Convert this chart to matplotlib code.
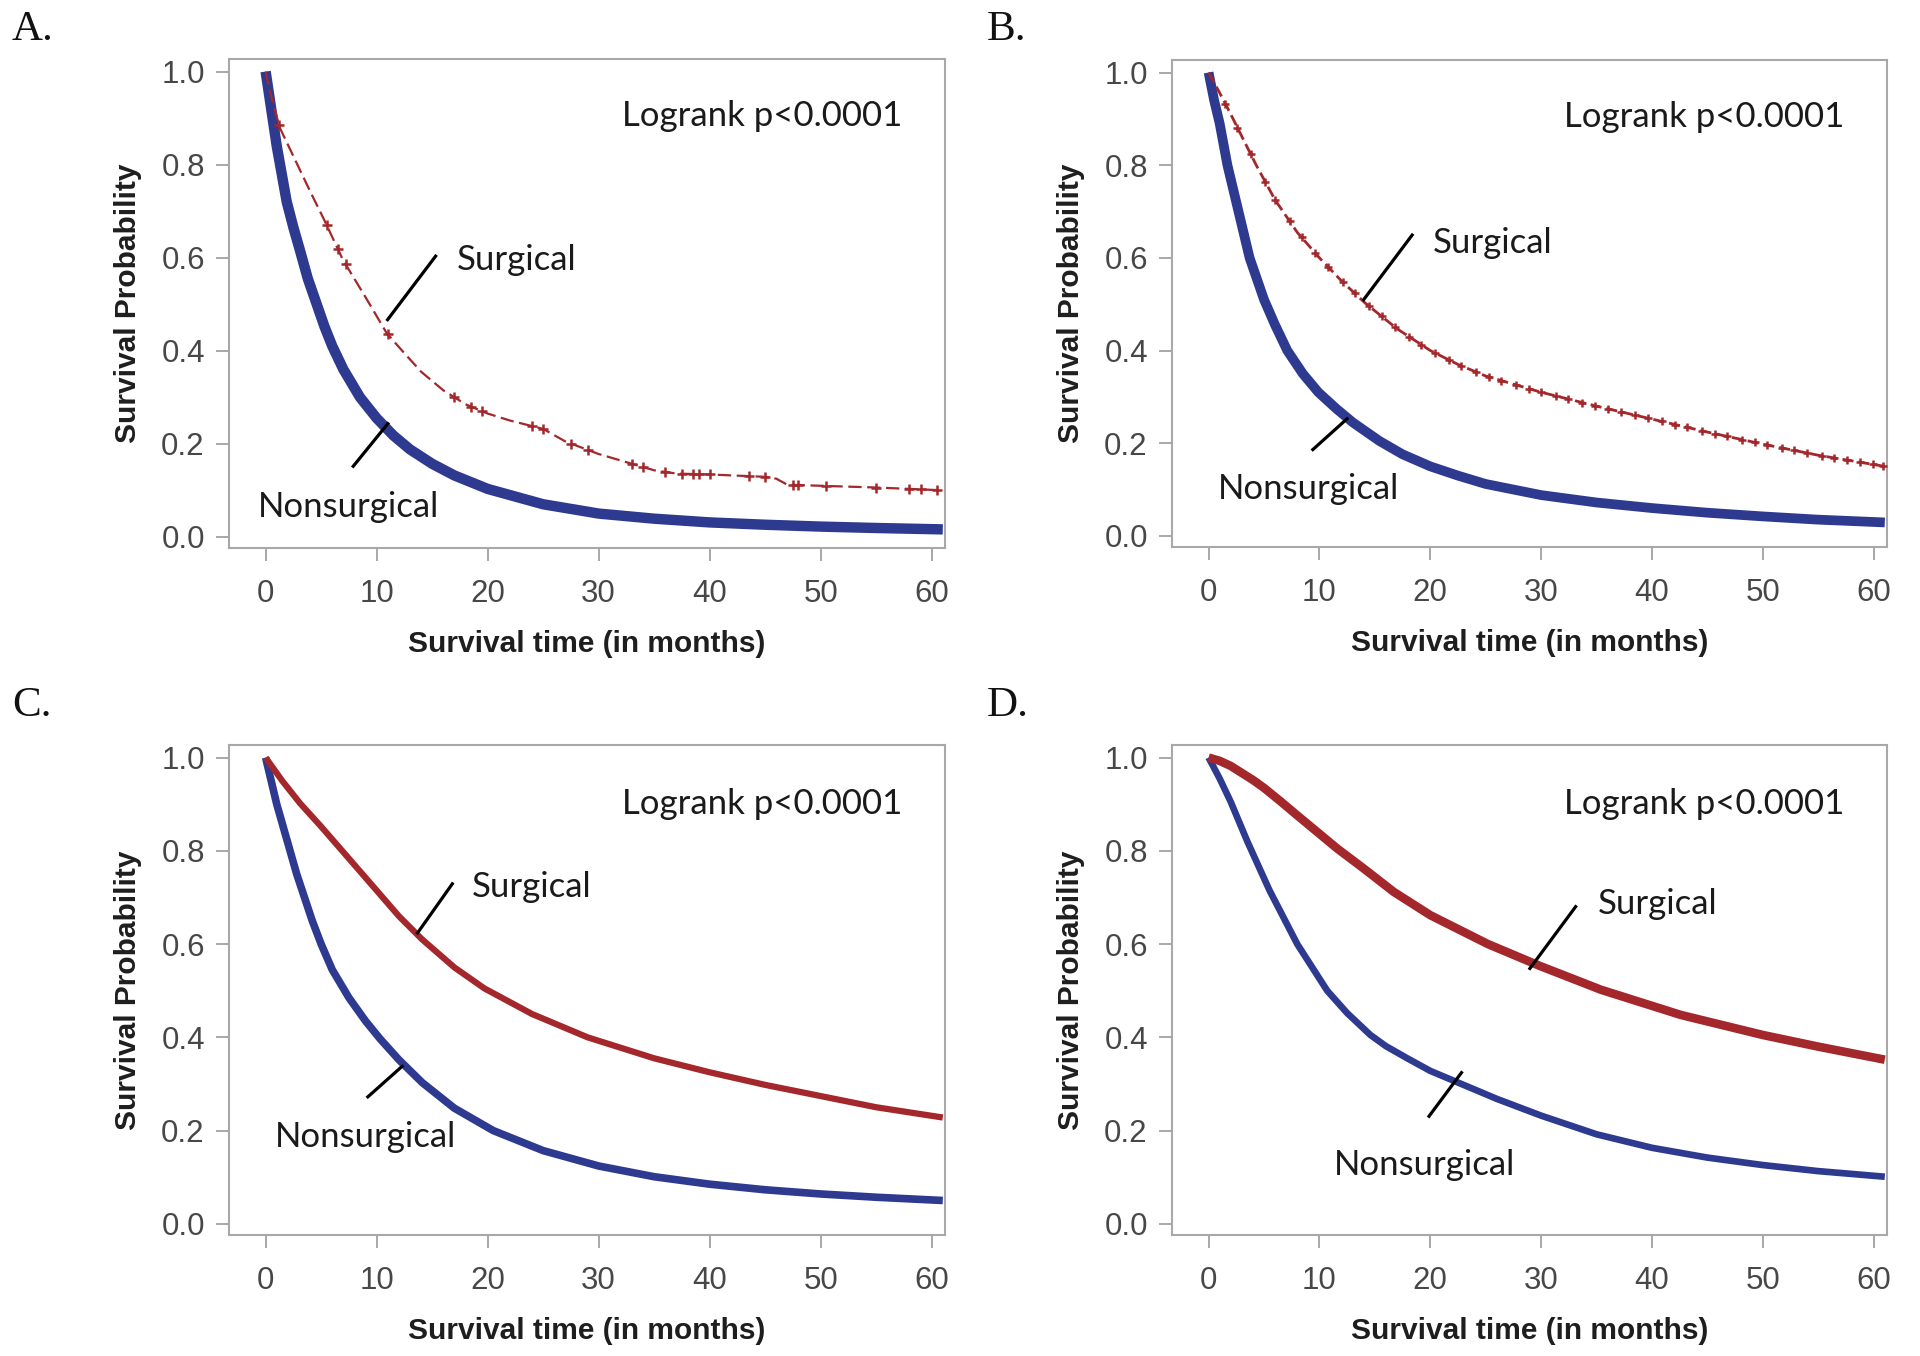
import matplotlib
matplotlib.use("Agg")
import matplotlib.pyplot as plt
import numpy as np

# ---------------- data ----------------
A_t_non = [0, 0.5, 1, 1.9, 2.5, 3.1, 3.8, 4.6, 5.3, 6, 7, 8.5, 10, 11.5, 13, 15, 17, 20, 25, 30, 35, 40, 45,
           50, 55, 61]
A_s_non = [1.0, 0.92, 0.84, 0.72, 0.665, 0.615, 0.555, 0.50, 0.452, 0.41, 0.36, 0.30, 0.255, 0.218, 0.188,
           0.157, 0.132, 0.103, 0.07, 0.05, 0.039, 0.031, 0.026, 0.022, 0.019, 0.016]
A_t_sur = [0, 0.36, 1.26, 3.96, 5.3, 6.97, 9, 10.9, 12.3, 14, 16, 18, 20, 22, 25, 27, 30, 33, 35, 37, 40, 45,
           46, 47, 55, 61]
A_s_sur = [1.0, 0.96, 0.88, 0.745, 0.68, 0.595, 0.515, 0.438, 0.40, 0.355, 0.315, 0.285, 0.265, 0.25, 0.232,
           0.205, 0.178, 0.157, 0.143, 0.136, 0.134, 0.129, 0.125, 0.112, 0.106, 0.10]
A_cens = [1.2, 5.5, 6.5, 7.2, 11, 17, 18.5, 19.5, 24, 25, 27.5, 29, 33, 34, 36, 37.5, 38.5, 39, 40, 43.5, 45,
          47.5, 48, 50.5, 55, 58, 59, 60.5]

B_t_non = [0, 0.5, 1, 1.7, 2.5, 3.7, 5, 6, 7.1, 8.5, 9.9, 11.5, 13, 15.4, 17.5, 20, 22.5, 25, 30, 35, 40, 45,
           50, 55, 61]
B_s_non = [1.0, 0.94, 0.89, 0.80, 0.72, 0.60, 0.51, 0.455, 0.40, 0.35, 0.31, 0.275, 0.245, 0.205, 0.176, 0.15,
           0.13, 0.112, 0.088, 0.072, 0.06, 0.05, 0.042, 0.035, 0.029]
B_t_sur = [0, 1, 2, 3, 4.3, 6, 8, 10, 12, 14.1, 17, 20, 22.5, 25, 30, 35, 40, 45, 50, 55, 61]
B_s_sur = [1.0, 0.956, 0.91, 0.862, 0.80, 0.725, 0.655, 0.60, 0.55, 0.503, 0.447, 0.40, 0.37, 0.345, 0.31, 0.28,
           0.252, 0.224, 0.198, 0.174, 0.15]
B_cens = [1.5, 2.6, 3.8, 5.1, 6.0, 7.3, 8.4, 9.6, 10.8, 12.1, 13.2, 14.5, 15.6, 16.8, 18.1, 19.2, 20.4, 21.7,
          22.8, 24.1, 25.3, 26.4, 27.7, 28.9, 30.0, 31.3, 32.4, 33.7, 34.9, 36.0, 37.2, 38.5, 39.6, 40.9, 42.1,
          43.2, 44.5, 45.7, 46.8, 48.1, 49.3, 50.4, 51.7, 52.8, 54.0, 55.3, 56.4, 57.6, 58.8, 59.9, 60.8]

C_t_non = [0, 0.5, 1, 1.6, 2.2, 2.8, 3.5, 4.2, 5, 6, 7.5, 9, 10.3, 12, 14.1, 17, 20.5, 25, 30, 35, 40, 45, 50,
           55, 61]
C_s_non = [1.0, 0.95, 0.90, 0.85, 0.80, 0.75, 0.70, 0.65, 0.60, 0.545, 0.485, 0.435, 0.397, 0.352, 0.303, 0.248,
           0.20, 0.157, 0.124, 0.101, 0.085, 0.073, 0.064, 0.057, 0.05]
C_t_sur = [0, 1.5, 3.1, 5, 6.9, 10, 12, 14.1, 17, 19.7, 24, 29, 35, 40, 45, 50, 55, 61]
C_s_sur = [1.0, 0.95, 0.902, 0.852, 0.80, 0.715, 0.66, 0.61, 0.55, 0.505, 0.45, 0.40, 0.355, 0.325, 0.298, 0.274,
           0.25, 0.228]

D_t_non = [0, 1, 2, 3.5, 5.5, 8, 10.7, 12.5, 14.6, 16, 18, 20, 23, 26, 30, 35, 40, 45, 50, 55, 61]
D_s_non = [1.0, 0.955, 0.905, 0.82, 0.715, 0.60, 0.50, 0.452, 0.405, 0.381, 0.354, 0.328, 0.298, 0.268, 0.232,
           0.192, 0.163, 0.142, 0.126, 0.113, 0.101]
D_t_sur = [0, 1, 2, 3, 4, 5, 6.5, 8, 11.6, 14, 16.7, 20, 25.2, 29.9, 35.4, 42.6, 50, 55, 61]
D_s_sur = [1.0, 0.993, 0.982, 0.967, 0.952, 0.935, 0.906, 0.876, 0.805, 0.762, 0.712, 0.662, 0.60, 0.553, 0.502,
           0.448, 0.405, 0.38, 0.352]

panel_labels = ["A.", "B.", "C.", "D."]
x_ticks = [0, 10, 20, 30, 40, 50, 60]
y_ticks = [0.0, 0.2, 0.4, 0.6, 0.8, 1.0]
logrank_text = "Logrank p<0.0001"
xlabel_text = "Survival time (in months)"
ylabel_text = "Survival Probability"

# label positions (data coords): (text x, text y, line x0, y0, x1, y1)
surg_lbl = [(17.2, 0.595, 15.4, 0.606, 10.9, 0.464),
            (20.2, 0.633, 18.45, 0.652, 13.9, 0.507),
            (18.6, 0.722, 16.9, 0.732, 13.6, 0.621),
            (35.1, 0.686, 33.2, 0.683, 28.9, 0.545)]
nons_lbl = [(-0.7, 0.064, 7.8, 0.149, 11.1, 0.246),
            (0.8, 0.102, 9.3, 0.184, 12.6, 0.255),
            (0.85, 0.186, 9.1, 0.27, 12.4, 0.34),
            (11.3, 0.127, 19.8, 0.228, 22.9, 0.327)]

# ---------------- styling ----------------
BLUE = "#2E3A8F"
RED = "#A3272B"
FRAME = "#A8A8A8"
TICKTXT = "#474747"
NARROW = ["Liberation Sans Narrow", "Liberation Sans", "DejaVu Sans"]
ANNOT = ["Lato", "Open Sans", "DejaVu Sans"]
ANN_FS = 25.0

fig = plt.figure(figsize=(19.2, 13.56), dpi=100)
W, H = 1920, 1356
boxes = [(229, 59, 945, 548), (1172, 60, 1887, 547), (229, 745, 945, 1235), (1172, 745, 1887, 1235)]
axes = []
for (l, t, r, b) in boxes:
    ax = fig.add_axes([l / W, 1 - b / H, (r - l) / W, (b - t) / H])
    axes.append(ax)

panels = [
    (A_t_non, A_s_non, A_t_sur, A_s_sur),
    (B_t_non, B_s_non, B_t_sur, B_s_sur),
    (C_t_non, C_s_non, C_t_sur, C_s_sur),
    (D_t_non, D_s_non, D_t_sur, D_s_sur),
]
blue_lw = [7.5, 7.0, 5.5, 4.8]
red_lw = [1.6, 2.0, 4.5, 6.2]

for i, ax in enumerate(axes):
    tn, sn, ts, ss = panels[i]
    ax.plot(tn, sn, color=BLUE, lw=blue_lw[i], solid_capstyle="butt", solid_joinstyle="round", zorder=3)
    if i == 0:
        ax.plot(ts, ss, color=RED, lw=red_lw[i], dashes=(6, 2.5), zorder=4)
        ax.plot(A_cens, np.interp(A_cens, ts, ss), ls="none", marker="+", ms=7, mew=1.8,
                color=RED, zorder=5)
    elif i == 1:
        ax.plot(ts, ss, color=RED, lw=red_lw[i], dashes=(4, 1.8), zorder=4)
        ax.plot(B_cens, np.interp(B_cens, ts, ss), ls="none", marker="+", ms=6, mew=1.8,
                color=RED, zorder=5)
    else:
        ax.plot(ts, ss, color=RED, lw=red_lw[i], solid_capstyle="butt", solid_joinstyle="round", zorder=4)

    ax.set_xlim(-3.3, 61.2)
    ax.set_ylim(-0.024, 1.027)
    ax.set_xticks(x_ticks)
    ax.set_yticks(y_ticks)
    ax.set_xticklabels([str(v) for v in x_ticks], family=NARROW, fontsize=22.5, color=TICKTXT)
    ax.set_yticklabels(["%.1f" % v for v in y_ticks], family=NARROW, fontsize=22.5, color=TICKTXT)
    ax.tick_params(axis="both", direction="out", length=9.4, width=1.4, color=FRAME)
    ax.tick_params(axis="y", pad=8)
    ax.tick_params(axis="x", pad=13)
    for sp in ax.spines.values():
        sp.set_color(FRAME)
        sp.set_linewidth(1.5)

    ax.set_xlabel(xlabel_text, family=["Liberation Sans", "DejaVu Sans"], fontweight="bold",
                  fontsize=21.5, color="#1E1E1E", labelpad=15)
    ax.set_ylabel(ylabel_text, family=["Liberation Sans", "DejaVu Sans"], fontweight="bold",
                  fontsize=21.5, color="#1E1E1E", labelpad=14)

    ax.text(32.1, 0.905 if i < 2 else 0.90, logrank_text, family=ANNOT, fontsize=ANN_FS,
            color="#1A1A1A", ha="left", va="center")

    sx, sy, x0, y0, x1, y1 = surg_lbl[i]
    ax.text(sx, sy, "Surgical", family=ANNOT, fontsize=ANN_FS, color="#1A1A1A", ha="left", va="center")
    ax.plot([x0, x1], [y0, y1], color="black", lw=2.3, zorder=6, solid_capstyle="butt")
    nx, ny, x0, y0, x1, y1 = nons_lbl[i]
    ax.text(nx, ny, "Nonsurgical", family=ANNOT, fontsize=ANN_FS, color="#1A1A1A", ha="left", va="center")
    ax.plot([x0, x1], [y0, y1], color="black", lw=2.3, zorder=6, solid_capstyle="butt")

# panel letters
letter_pos = [(12, 40), (987, 40), (12, 716), (987, 716)]
for lbl, (px, py) in zip(panel_labels, letter_pos):
    fig.text(px / W, 1 - py / H, lbl, family=["Liberation Serif", "DejaVu Serif"], fontsize=31,
             ha="left", va="baseline", color="#111111")

fig.savefig("out.png", dpi=100, facecolor="white")
